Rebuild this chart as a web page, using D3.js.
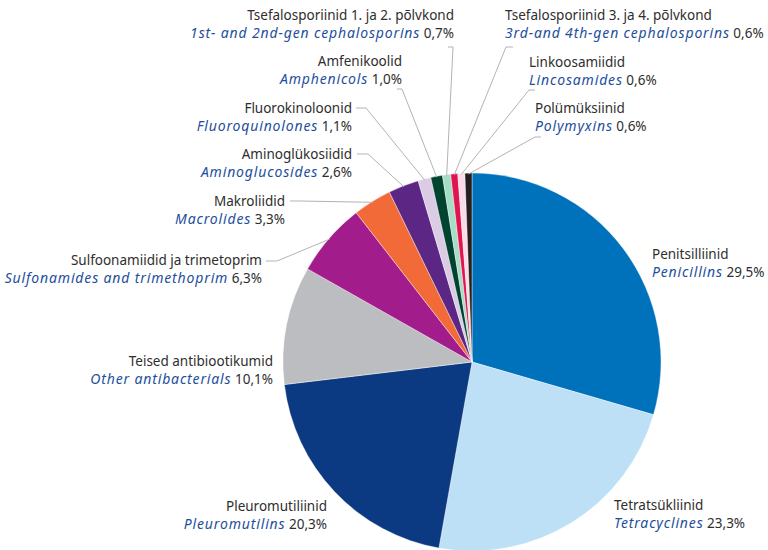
<!DOCTYPE html>
<html>
<head>
<meta charset="utf-8">
<script src="https://cdn.jsdelivr.net/npm/d3@7"></script>
<style>
  html, body { margin: 0; padding: 0; background: #fff; }
  svg { display: block; }
  text { font-family: "Noto Sans", "Open Sans", sans-serif; font-size: 13.5px; }
</style>
</head>
<body>
<svg id="chart" width="768" height="550"></svg>
<script>
// ---- Data ----
const namesEt = [
  "Penitsilliinid", "Tetratsükliinid", "Pleuromutiliinid", "Teised antibiootikumid",
  "Sulfoonamiidid ja trimetoprim", "Makroliidid", "Aminoglükosiidid", "Fluorokinoloonid",
  "Amfenikoolid", "Tsefalosporiinid 1. ja 2. põlvkond", "Tsefalosporiinid 3. ja 4. põlvkond",
  "Linkoosamiidid", "Polümüksiinid"
];
const namesEn = [
  "Penicillins", "Tetracyclines", "Pleuromutilins", "Other antibacterials",
  "Sulfonamides and trimethoprim", "Macrolides", "Aminoglucosides", "Fluoroquinolones",
  "Amphenicols", "1st- and 2nd-gen cephalosporins", "3rd-and 4th-gen cephalosporins",
  "Lincosamides", "Polymyxins"
];
const shares = [29.5, 23.3, 20.3, 10.1, 6.3, 3.3, 2.6, 1.1, 1.0, 0.7, 0.6, 0.6, 0.6];
const sliceColors = [
  "#0072bc", "#bde0f6", "#0b3a82", "#bcbdc0", "#a21d8b", "#f26a38", "#5c2684",
  "#dbcbe5", "#00432f", "#a7dcc6", "#e0144f", "#fbdbe8", "#231f20"
];

// ---- Layout (positions only) ----
const cx = 472, cy = 362, R = 189;
const lineGap = 18;
const labelLayout = [
  { x: 652, y: 259, anchor: "start", lead: null },
  { x: 614, y: 510, anchor: "start", lead: null },
  { x: 327, y: 511, anchor: "end", lead: null },
  { x: 273, y: 366, anchor: "end", lead: null },
  { x: 262, y: 265, anchor: "end", lead: [[266, 261], [277, 261]] },
  { x: 285, y: 206, anchor: "end", lead: [[290, 201], [300, 201]] },
  { x: 352, y: 159, anchor: "end", lead: [[357, 154], [368, 154]] },
  { x: 352, y: 113, anchor: "end", lead: [[356, 108], [366, 108]] },
  { x: 402, y: 66,  anchor: "end", lead: [[397, 89], [402, 89]] },
  { x: 454, y: 20,  anchor: "end", lead: [[448, 47], [453, 47]] },
  { x: 505, y: 20,  anchor: "start", lead: [[513, 47], [506, 47]] },
  { x: 529, y: 67,  anchor: "start", lead: [[535, 90], [529, 90]] },
  { x: 535, y: 113, anchor: "start", lead: [[541, 137], [535, 137]] }
];

const svg = d3.select("#chart");
const data = shares.map((v, i) => ({ i, v }));

const pie = d3.pie().value(d => d.v).sort(null).startAngle(0).endAngle(2 * Math.PI);
const arcs = pie(data);
const arc = d3.arc().innerRadius(0).outerRadius(R);
const edgeArc = d3.arc().innerRadius(R - 1).outerRadius(R - 1);

const g = svg.append("g").attr("transform", `translate(${cx},${cy})`);
g.selectAll("path.slice")
  .data(arcs)
  .join("path")
  .attr("class", "slice")
  .attr("d", arc)
  .attr("fill", d => sliceColors[d.data.i])
  .attr("stroke", "#ffffff")
  .attr("stroke-width", 0.4);

// Leader lines
const leaderG = svg.append("g");
arcs.forEach(a => {
  const L = labelLayout[a.data.i];
  if (!L.lead) return;
  const c = edgeArc.centroid(a);
  const pts = [L.lead[0], L.lead[1], [cx + c[0], cy + c[1]]];
  leaderG.append("path")
    .attr("d", d3.line()(pts))
    .attr("fill", "none")
    .attr("stroke", "#b3b3b3")
    .attr("stroke-width", 1);
});

// Labels
const fmt = v => d3.format(".1f")(v).replace(".", ",") + "%";
const labelG = svg.append("g");
data.forEach(d => {
  const L = labelLayout[d.i];
  labelG.append("text")
    .attr("x", L.x).attr("y", L.y)
    .attr("text-anchor", L.anchor)
    .attr("fill", "#2e2e2e")
    .text(namesEt[d.i]);
  const t2 = labelG.append("text")
    .attr("x", L.x).attr("y", L.y + lineGap)
    .attr("text-anchor", L.anchor);
  t2.append("tspan")
    .attr("fill", "#1e4f9c")
    .attr("font-style", "italic")
    .attr("font-size", "14px")
    .attr("letter-spacing", "0.85px")
    .text(namesEn[d.i]);
  t2.append("tspan")
    .attr("fill", "#2e2e2e")
    .text(" " + fmt(d.v));
});
</script>
</body>
</html>
